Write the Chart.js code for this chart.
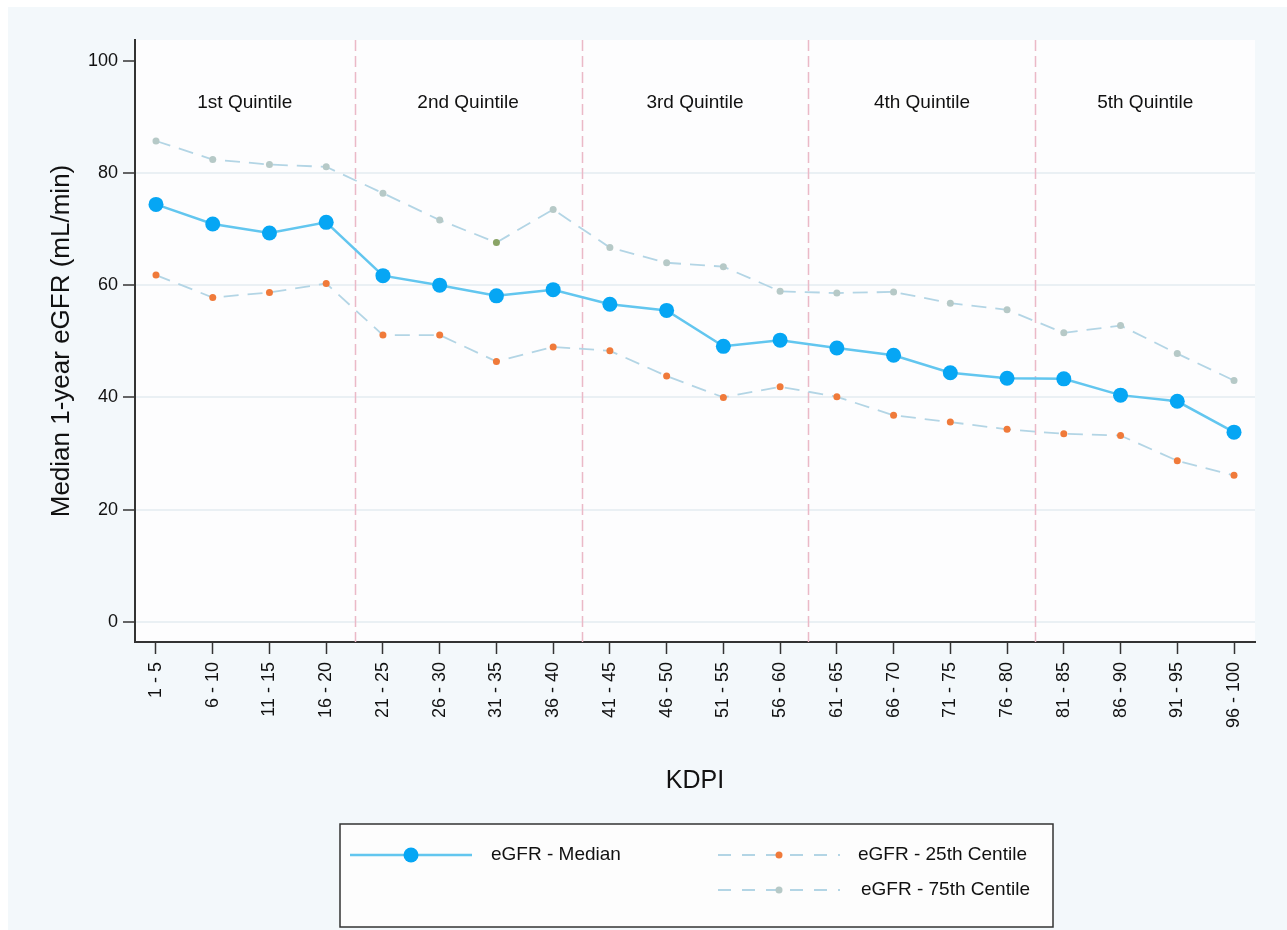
<!DOCTYPE html>
<html>
<head>
<meta charset="utf-8">
<script src="https://cdn.jsdelivr.net/npm/chart.js@4/dist/chart.umd.min.js"></script>
<style>
  html, body { margin: 0; padding: 0; background: #f3f8fb; }
  canvas { display: block; }
</style>
</head>
<body>
<canvas id="kdpiChart" width="1287" height="930"></canvas>
<script>
// ─── Data ─────────────────────────────────────────────────────────────────────

const kdpiLabels = [
  '1 - 5', '6 - 10', '11 - 15', '16 - 20', '21 - 25', '26 - 30', '31 - 35',
  '36 - 40', '41 - 45', '46 - 50', '51 - 55', '56 - 60', '61 - 65', '66 - 70',
  '71 - 75', '76 - 80', '81 - 85', '86 - 90', '91 - 95', '96 - 100',
];

const medianEgfr = [74.4, 70.9, 69.3, 71.2, 61.7, 60.0, 58.1, 59.2, 56.6, 55.5,
                    49.1, 50.2, 48.8, 47.5, 44.4, 43.4, 43.3, 40.4, 39.3, 33.8];
const p25Egfr    = [61.8, 57.8, 58.7, 60.3, 51.1, 51.1, 46.4, 49.0, 48.3, 43.8,
                    40.0, 41.9, 40.1, 36.8, 35.6, 34.3, 33.5, 33.2, 28.7, 26.1];
const p75Egfr    = [85.7, 82.4, 81.5, 81.1, 76.4, 71.6, 67.6, 73.5, 66.7, 64.0,
                    63.3, 58.9, 58.6, 58.8, 56.8, 55.6, 51.5, 52.8, 47.8, 43.0];

const yTicks        = [0, 20, 40, 60, 80, 100];
const quintileNames = ['1st Quintile', '2nd Quintile', '3rd Quintile', '4th Quintile', '5th Quintile'];
const quintileSize  = 4;   // KDPI bins per quintile

// ─── Styles ──────────────────────────────────────────────────────────────────

const FONT       = '"Liberation Sans", Arial, Helvetica, sans-serif';
const INK        = '#111';
const MEDIAN_LN  = '#62c6ef';
const MEDIAN_PT  = '#06a6f4';
const DASH_LN    = '#b3d5e5';
const P25_PT     = '#f07a3a';
const P75_PT     = '#b6c9c7';
const P75_ODD_PT = '#8aa466';   // one point in the reference is green
const DIVIDER    = '#ebb9c7';

const toPoints = arr => arr.map((y, x) => ({ x, y }));

// ─── Plugins ─────────────────────────────────────────────────────────────────

const backdrop = {
  id: 'backdrop',
  beforeDraw(chart) {
    const { ctx, chartArea: a, width, height } = chart;
    ctx.save();
    ctx.fillStyle = '#f3f8fb';
    ctx.fillRect(0, 0, width, height);
    ctx.fillStyle = '#ffffff';
    ctx.fillRect(0, 0, width, 7);
    ctx.fillRect(0, 0, 8, height);
    ctx.fillStyle = '#fdfdfe';
    ctx.fillRect(a.left, a.top, a.right - a.left, a.bottom - a.top);
    ctx.restore();
  },
};

// dashed pink dividers between quintiles + the quintile names
const quintiles = {
  id: 'quintiles',
  beforeDatasetsDraw(chart) {
    const { ctx, chartArea: a, scales: { x, y } } = chart;
    ctx.save();
    ctx.strokeStyle = DIVIDER;
    ctx.lineWidth = 1.5;
    ctx.setLineDash([11, 5]);
    const edges = [x.min];
    for (let k = 1; k < quintileNames.length; k++) {
      const v = k * quintileSize - 0.5;
      edges.push(v);
      const px = Math.round(x.getPixelForValue(v)) + 0.5;
      ctx.beginPath();
      ctx.moveTo(px, a.top);
      ctx.lineTo(px, a.bottom);
      ctx.stroke();
    }
    edges.push(x.max);
    ctx.setLineDash([]);
    ctx.fillStyle = INK;
    ctx.font = `19px ${FONT}`;
    ctx.textAlign = 'center';
    ctx.textBaseline = 'middle';
    quintileNames.forEach((name, k) => {
      const cx = x.getPixelForValue((edges[k] + edges[k + 1]) / 2);
      ctx.fillText(name, cx, y.getPixelForValue(92.5));
    });
    ctx.restore();
  },
};

// boxed legend laid out like the reference (two columns)
const boxLegend = {
  id: 'boxLegend',
  afterDraw(chart) {
    const { ctx } = chart;
    const ds = chart.data.datasets;
    const slots = [
      { x: 350, y: 855, w: 122, tx: 491 },
      { x: 718, y: 855, w: 122, tx: 858 },
      { x: 718, y: 890, w: 122, tx: 861 },
    ];
    ctx.save();
    ctx.fillStyle = '#fdfdfd';
    ctx.fillRect(340, 824, 713, 103);
    ctx.strokeStyle = '#333';
    ctx.lineWidth = 1.5;
    ctx.strokeRect(340, 824, 713, 103);
    ds.forEach((d, i) => {
      const s = slots[i];
      ctx.strokeStyle = d.borderColor;
      ctx.lineWidth = d.borderWidth;
      ctx.setLineDash(d.borderDash ? [13, 11] : []);
      ctx.beginPath();
      ctx.moveTo(s.x, s.y);
      ctx.lineTo(s.x + s.w, s.y);
      ctx.stroke();
      ctx.setLineDash([]);
      const pc = Array.isArray(d.pointBackgroundColor) ? d.pointBackgroundColor[0] : d.pointBackgroundColor;
      ctx.fillStyle = pc;
      ctx.beginPath();
      ctx.arc(s.x + s.w / 2, s.y, d.pointRadius, 0, Math.PI * 2);
      ctx.fill();
      ctx.fillStyle = INK;
      ctx.font = `19px ${FONT}`;
      ctx.textAlign = 'left';
      ctx.textBaseline = 'middle';
      ctx.fillText(d.label, s.tx, s.y);
    });
    ctx.restore();
  },
};

// ─── Chart ───────────────────────────────────────────────────────────────────

new Chart(document.getElementById('kdpiChart').getContext('2d'), {
  type: 'line',
  data: {
    datasets: [
      {
        label:                'eGFR - Median',
        data:                 toPoints(medianEgfr),
        borderColor:          MEDIAN_LN,
        borderWidth:          2.5,
        pointRadius:          7.5,
        pointBorderWidth:     0,
        pointBackgroundColor: MEDIAN_PT,
        tension:              0,
      },
      {
        label:                'eGFR - 25th Centile',
        data:                 toPoints(p25Egfr),
        borderColor:          DASH_LN,
        borderWidth:          1.8,
        borderDash:           [15, 9],
        pointRadius:          3.5,
        pointBorderWidth:     0,
        pointBackgroundColor: P25_PT,
        tension:              0,
      },
      {
        label:                'eGFR - 75th Centile',
        data:                 toPoints(p75Egfr),
        borderColor:          DASH_LN,
        borderWidth:          1.8,
        borderDash:           [15, 9],
        pointRadius:          3.5,
        pointBorderWidth:     0,
        pointBackgroundColor: p75Egfr.map((_, i) => (i === 6 ? P75_ODD_PT : P75_PT)),
        tension:              0,
      },
    ],
  },
  options: {
    responsive: false,
    animation:  false,
    layout: { padding: { left: 0, top: 40, right: 32, bottom: 128 } },
    plugins: {
      legend:  { display: false },
      tooltip: { enabled: false },
    },
    scales: {
      x: {
        type: 'linear',
        min: -0.37,
        max: 19.37,
        afterBuildTicks: s => { s.ticks = kdpiLabels.map((_, i) => ({ value: i })); },
        afterFit: s => { s.height = 160; },
        ticks: {
          autoSkip:    false,
          minRotation: 90,
          maxRotation: 90,
          padding:     8,
          color:       INK,
          font:        { family: FONT, size: 18 },
          callback:    v => kdpiLabels[v],
        },
        grid: {
          drawOnChartArea: false,
          drawTicks:       true,
          tickLength:      12,
          tickColor:       '#333',
          tickWidth:       1.5,
        },
        border: { color: '#333', width: 2 },
        title: {
          display: true,
          text:    'KDPI',
          color:   INK,
          font:    { family: FONT, size: 25 },
          padding: { top: 0, bottom: 6 },
        },
      },
      y: {
        min: -3.6,
        max: 103.7,
        afterBuildTicks: s => { s.ticks = yTicks.map(v => ({ value: v })); },
        afterFit: s => { s.width = 135; },
        ticks: {
          padding: 5,
          color:   INK,
          font:    { family: FONT, size: 18 },
        },
        grid: {
          color:      c => (c.tick && c.tick.value === 100 ? 'rgba(0,0,0,0)' : '#eaf0f4'),
          lineWidth:  2,
          tickLength: 12,
          tickColor:  '#333',
          tickWidth:  1.5,
        },
        border: { color: '#333', width: 2 },
        title: {
          display: true,
          text:    'Median 1-year eGFR (mL/min)',
          color:   INK,
          font:    { family: FONT, size: 26 },
          padding: { top: 46, bottom: 0 },
        },
      },
    },
  },
  plugins: [backdrop, quintiles, boxLegend],
});
</script>
</body>
</html>
